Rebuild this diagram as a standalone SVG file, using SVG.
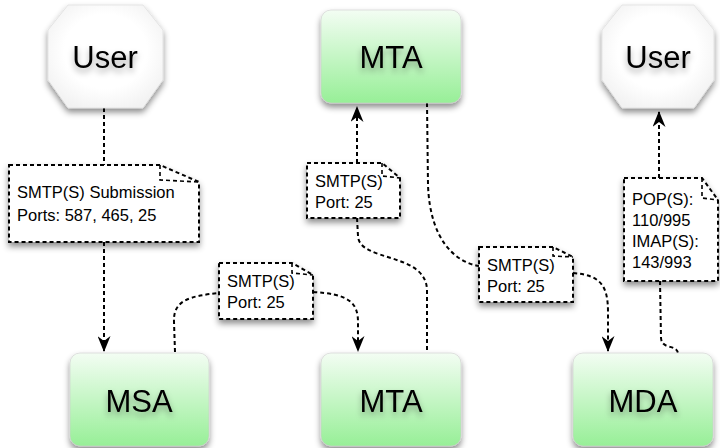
<svg xmlns="http://www.w3.org/2000/svg" width="720" height="448" viewBox="0 0 720 448">
<style>
.conn{fill:none;stroke:#000;stroke-width:2;stroke-dasharray:4 3}
.note{fill:#fff;stroke:#000;stroke-width:2;stroke-dasharray:4 3}
.fold{fill:none;stroke:#000;stroke-width:1.6;stroke-dasharray:4 3}
.box{fill:url(#green);stroke:#cfcfcf;stroke-width:0.6}
.oct{fill:url(#white);stroke:#d8d8d8;stroke-width:0.6}
.big{font-family:"Liberation Sans",Arial,sans-serif;font-size:31px;fill:#000;text-anchor:middle}
.small{font-family:"Liberation Sans",Arial,sans-serif;font-size:16.5px;fill:#000}
</style>
<defs>
<linearGradient id="green" x1="0" y1="0" x2="0" y2="1">
<stop offset="0" stop-color="#f3fdf3"/>
<stop offset="1" stop-color="#97ef97"/>
</linearGradient>
<radialGradient id="white" cx="0.5" cy="0.45" r="0.6">
<stop offset="0.6" stop-color="#ffffff"/>
<stop offset="1" stop-color="#f2f2f2"/>
</radialGradient>
<filter id="shadow" x="-20%" y="-20%" width="140%" height="150%">
<feDropShadow dx="0" dy="4" stdDeviation="3" flood-color="#000" flood-opacity="0.45"/>
</filter>
<filter id="tshadow" x="-20%" y="-30%" width="140%" height="180%">
<feDropShadow dx="0" dy="4" stdDeviation="3" flood-color="#000" flood-opacity="0.35"/>
</filter>
<marker id="arrow" viewBox="0 0 16 13" markerWidth="16" markerHeight="13" refX="15" refY="6.5" orient="auto" markerUnits="userSpaceOnUse">
<path d="M0,0 L16,6.5 L0,13 L5,6.5 Z" fill="#000"/>
</marker>
</defs>

<g id="connectors">
<path class="conn" d="M104,108 V165"/>
<path class="conn" d="M104,242 V351" marker-end="url(#arrow)"/>
<path class="conn" d="M175,352 L174,322 C173,300 190,296 219,293"/>
<path class="conn" d="M313,292 C348,294 358,302 358,322 L358,351" marker-end="url(#arrow)"/>
<path class="conn" d="M357,163 L357,107" marker-end="url(#arrow)"/>
<path class="conn" d="M357,218 L358,236 C359,262 426,252 427,290 L427,352"/>
<path class="conn" d="M427,103 L428,185 C430,240 455,262 479,266"/>
<path class="conn" d="M573,273 C600,275 608,285 608,312 L608,351" marker-end="url(#arrow)"/>
<path class="conn" d="M659,178 L659,112" marker-end="url(#arrow)"/>
<path class="conn" d="M660,281 L661,338 C662,350 676,344 678,353"/>
</g>

<g id="user1">
<polygon class="oct" filter="url(#shadow)" points="68,5 143,5 163,30 163,80 143,108 68,108 48,80 48,30"/>
<text class="big" x="105" y="68" filter="url(#tshadow)">User</text>
</g>

<g id="user2">
<polygon class="oct" filter="url(#shadow)" points="622,5 694,5 714,30 714,80 694,108 622,108 602,80 602,30"/>
<text class="big" x="658" y="68" filter="url(#tshadow)">User</text>
</g>

<g id="mta-top">
<rect class="box" filter="url(#shadow)" x="321" y="10" width="140" height="93" rx="10"/>
<text class="big" x="391" y="68" filter="url(#tshadow)">MTA</text>
</g>

<g id="msa">
<rect class="box" filter="url(#shadow)" x="70" y="353" width="139" height="93" rx="10"/>
<text class="big" x="139" y="412" filter="url(#tshadow)">MSA</text>
</g>

<g id="mta-bottom">
<rect class="box" filter="url(#shadow)" x="321" y="353" width="140" height="93" rx="10"/>
<text class="big" x="391" y="412" filter="url(#tshadow)">MTA</text>
</g>

<g id="mda">
<rect class="box" filter="url(#shadow)" x="573" y="353" width="140" height="93" rx="10"/>
<text class="big" x="643" y="412" filter="url(#tshadow)">MDA</text>
</g>

<g id="note-submission">
<path class="note" filter="url(#shadow)" d="M9,165 H160 L199,182 V242 H9 Z"/>
<path class="fold" d="M160,165 V180 L199,182"/>
<text class="small" x="17" y="198">SMTP(S) Submission</text>
<text class="small" x="17" y="221">Ports: 587, 465, 25</text>
</g>

<g id="note-msa-mta">
<path class="note" filter="url(#shadow)" d="M219,263 H292 L313,275 V319 H219 Z"/>
<path class="fold" d="M292,263 V273 L313,275"/>
<text class="small" x="227" y="287">SMTP(S)</text>
<text class="small" x="227" y="308">Port: 25</text>
</g>

<g id="note-mta-mta">
<path class="note" filter="url(#shadow)" d="M307,163 H382 L400,178 V218 H307 Z"/>
<path class="fold" d="M382,163 V176 L400,178"/>
<text class="small" x="315" y="187">SMTP(S)</text>
<text class="small" x="315" y="208">Port: 25</text>
</g>

<g id="note-mta-mda">
<path class="note" filter="url(#shadow)" d="M479,247 H553 L573,257 V302 H479 Z"/>
<path class="fold" d="M553,247 V256 L573,257"/>
<text class="small" x="487" y="271">SMTP(S)</text>
<text class="small" x="487" y="292">Port: 25</text>
</g>

<g id="note-pop-imap">
<path class="note" filter="url(#shadow)" d="M624,178 H702 L718,200 V281 H624 Z"/>
<path class="fold" d="M702,178 V198 L718,200"/>
<text class="small" x="632" y="205">POP(S):</text>
<text class="small" x="632" y="226">110/995</text>
<text class="small" x="632" y="247">IMAP(S):</text>
<text class="small" x="632" y="268">143/993</text>
</g>
</svg>
